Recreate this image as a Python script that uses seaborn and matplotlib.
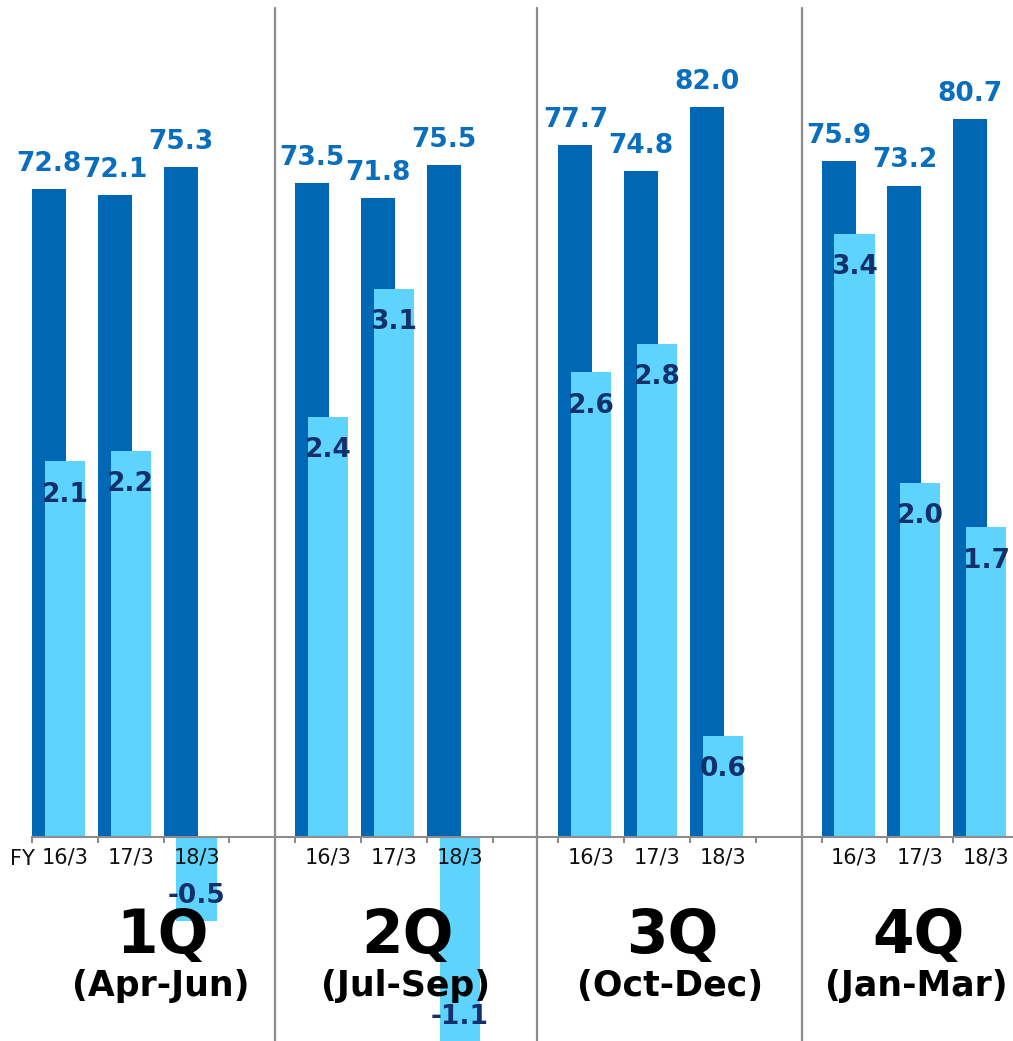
import numpy as np
import pandas as pd
import matplotlib
matplotlib.use("Agg")
import matplotlib.pyplot as plt
import seaborn as sns
from matplotlib.transforms import blended_transform_factory

# ---------------- data ----------------
quarters = ["1Q", "2Q", "3Q", "4Q"]
periods = ["(Apr-Jun)", "(Jul-Sep)", "(Oct-Dec)", "(Jan-Mar)"]
fiscal_years = ["16/3", "17/3", "18/3"]
dark_values = [72.8, 72.1, 75.3,
               73.5, 71.8, 75.5,
               77.7, 74.8, 82.0,
               75.9, 73.2, 80.7]
light_values = [2.11, 2.17, -0.47,
                2.36, 3.08, -1.148,
                2.61, 2.77, 0.57,
                3.39, 1.99, 1.74]

# ---------------- layout ----------------
W, H = 1013, 1041
sns.set_theme(style="white")
plt.rcParams["font.family"] = ["DejaVu Sans"]

fig = plt.figure(figsize=(W / 100, H / 100), dpi=100)
ax1 = fig.add_axes([0, 0, 1, 1])
ax2 = ax1.twinx()

slot = np.array([4 * q + j for q in range(4) for j in range(3)], dtype=float)
df = pd.DataFrame({
    "dark_x": slot + 0.258,
    "light_x": slot + 0.50,
    "dark": dark_values,
    "light": light_values,
    "label": [fy for _ in quarters for fy in fiscal_years],
})

DARK = "#0067B4"
LIGHT = "#5DD3FE"
NAVY = "#13306B"
LBLUE = "#0A6EBE"
GRAY = "#8C8C8C"

sns.barplot(data=df, x="dark_x", y="dark", native_scale=True, width=0.517,
            color=DARK, saturation=1, errorbar=None, linewidth=0, ax=ax1)
sns.barplot(data=df, x="light_x", y="light", native_scale=True, width=0.61,
            color=LIGHT, saturation=1, errorbar=None, linewidth=0, ax=ax2)

xl = (-32 / 65.8, (W - 32) / 65.8)
ax1.set_xlim(*xl)
ax2.set_xlim(*xl)
ax1.set_ylim(-204 / 8.9, 837 / 8.9)
ax2.set_ylim(-204 / 178.0, 837 / 178.0)

for ax in (ax1, ax2):
    ax.set_xlabel("")
    ax.set_ylabel("")
    ax.set_yticks([])
    for s in ax.spines.values():
        s.set_visible(False)
ax1.xaxis.set_visible(False)

# baseline + ticks on the top (twin) axes, drawn above the bars
ax2.set_axisbelow(False)
ax2.xaxis.set_visible(True)
ax2.spines["bottom"].set_visible(True)
ax2.spines["bottom"].set_position(("data", 0))
ax2.spines["bottom"].set_bounds(0, xl[1])
ax2.spines["bottom"].set_color(GRAY)
ax2.spines["bottom"].set_linewidth(1.5)
ax2.xaxis.set_ticks_position("bottom")
ax2.set_xticks(np.arange(0, 15))
ax2.set_xticklabels([])
ax2.set_xticks(slot + 0.5, minor=True)
ax2.set_xticklabels(df["label"], minor=True)
ax2.tick_params(axis="x", which="major", length=4.5, width=1.5, color=GRAY,
                direction="out")
ax2.tick_params(axis="x", which="minor", length=0, pad=7.5, labelsize=15,
                labelcolor="#111111")

# dividers
for xd in (3.69, 7.68, 11.70):
    ax2.axvline(xd, ymin=0, ymax=(H - 8) / H, color=GRAY, lw=1.6, zorder=5)

# value labels
for x, v in zip(df["dark_x"], df["dark"]):
    ax1.annotate(f"{v:.1f}", (x, v), xytext=(0, 13), textcoords="offset points",
                 ha="center", va="baseline", fontsize=19, fontweight="bold",
                 color=LBLUE)
for x, v in zip(df["light_x"], df["light"]):
    off = -29 if v >= 0 else 12.5
    ax2.annotate(f"{v:.1f}", (x, v), xytext=(0, off), textcoords="offset points",
                 ha="center", va="baseline", fontsize=19, fontweight="bold",
                 color=NAVY, zorder=6)

# FY label
fig.text(22 / W, 1 - 865 / H, "FY", ha="center", va="baseline", fontsize=15,
         color="#111111")

# quarter labels (on the top axes so they sit above the bars)
tr = blended_transform_factory(ax2.transData, ax2.transAxes)
q_x = [1.98, 5.71, 9.73, 13.47]
for q, p, x in zip(quarters, periods, q_x):
    ax2.text(x, 1 - 953 / H, q, transform=tr, ha="center", va="baseline",
             fontsize=43, fontweight="bold", color="black", zorder=7)
    ax2.text(x - 0.03, 1 - 996 / H, p, transform=tr, ha="center", va="baseline",
             fontsize=25, fontweight="bold", color="black", zorder=7)

fig.savefig("out.png", dpi=100)
